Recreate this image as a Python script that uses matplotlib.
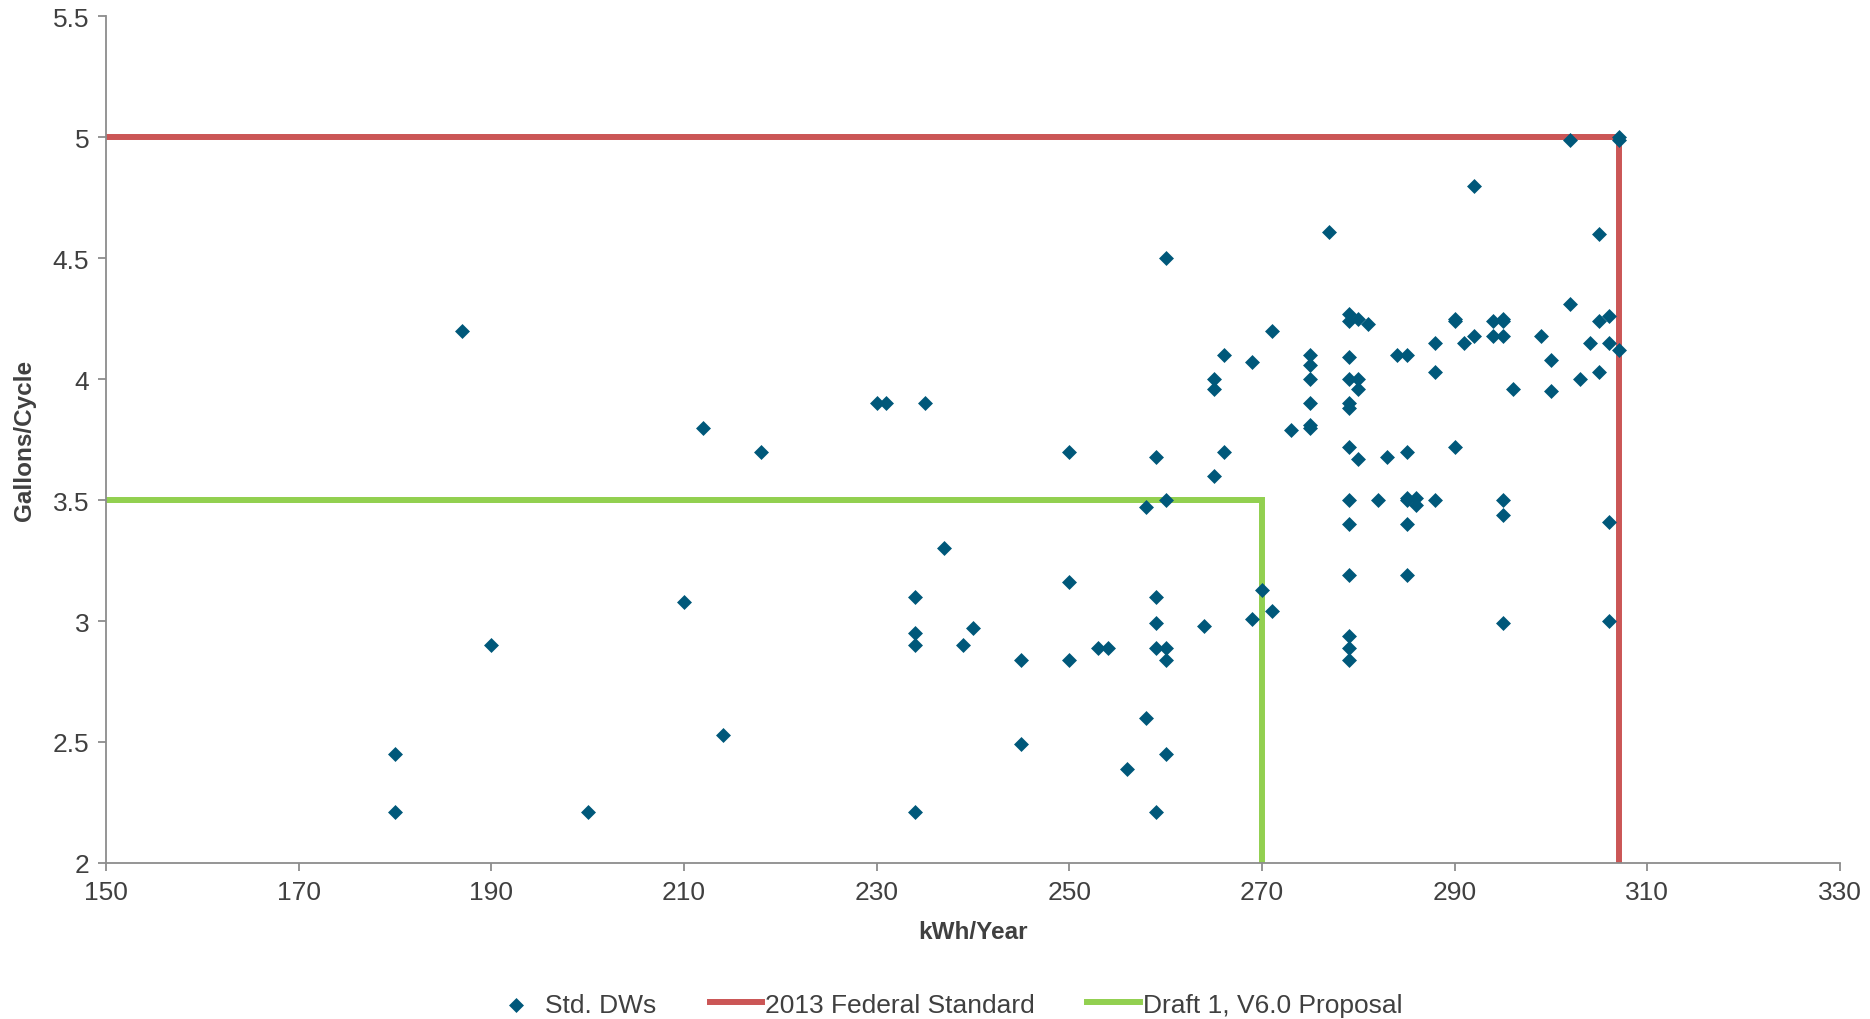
import matplotlib
matplotlib.use("Agg")
import matplotlib.pyplot as plt
from matplotlib.ticker import FuncFormatter

plt.rcParams['font.family'] = ['Liberation Sans', 'DejaVu Sans']

# Std. DWs data (kWh/Year, Gallons/Cycle)
kwh = [180, 180, 187, 190, 200, 210, 212, 214, 218, 230, 231, 234, 234, 234, 234,
       235, 237, 239, 240, 245, 245, 250, 250, 250, 253, 254, 256, 258, 258,
       259, 259, 259, 259, 259, 260, 260, 260, 260, 260, 264, 265, 265, 265,
       266, 266, 269, 269, 270, 271, 271, 273, 275, 275, 275, 275, 275, 275,
       277, 279, 279, 279, 279, 279, 279, 279, 279, 279, 279, 279, 279, 279,
       280, 280, 280, 280, 281, 282, 283, 284, 285, 285, 285, 285, 285, 285,
       286, 286, 288, 288, 288, 290, 290, 290, 291, 292, 292, 294, 294,
       295, 295, 295, 295, 295, 295, 296, 299, 300, 300, 302, 302, 303, 304,
       305, 305, 305, 306, 306, 306, 306, 307, 307, 307]
gallons = [2.45, 2.21, 4.20, 2.90, 2.21, 3.08, 3.80, 2.53, 3.70, 3.90, 3.90, 3.10, 2.95, 2.90, 2.21,
           3.90, 3.30, 2.90, 2.97, 2.84, 2.49, 3.70, 3.16, 2.84, 2.89, 2.89, 2.39, 3.47, 2.60,
           3.68, 3.10, 2.99, 2.89, 2.21, 4.50, 3.50, 2.89, 2.84, 2.45, 2.98, 4.00, 3.96, 3.60,
           4.10, 3.70, 4.07, 3.01, 3.13, 4.20, 3.04, 3.79, 4.10, 4.06, 4.00, 3.90, 3.80, 3.81,
           4.61, 4.27, 4.24, 4.09, 4.00, 3.90, 3.88, 3.72, 3.50, 3.40, 3.19, 2.94, 2.89, 2.84,
           4.25, 4.00, 3.96, 3.67, 4.23, 3.50, 3.68, 4.10, 4.10, 3.70, 3.51, 3.50, 3.40, 3.19,
           3.51, 3.48, 4.15, 4.03, 3.50, 4.25, 4.24, 3.72, 4.15, 4.80, 4.18, 4.24, 4.18,
           4.25, 4.24, 4.18, 3.50, 3.44, 2.99, 3.96, 4.18, 4.08, 3.95, 4.99, 4.31, 4.00, 4.15,
           4.60, 4.24, 4.03, 4.26, 4.15, 3.41, 3.00, 5.00, 4.99, 4.12]

# Reference lines
fed_x = [150, 307, 307]
fed_y = [5.0, 5.0, 2.0]
prop_x = [150, 270, 270]
prop_y = [3.5, 3.5, 2.0]

x_ticks = [150, 170, 190, 210, 230, 250, 270, 290, 310, 330]
y_ticks = [2, 2.5, 3, 3.5, 4, 4.5, 5, 5.5]

fig = plt.figure(figsize=(18.7, 10.2), dpi=100)
ax = fig.add_axes([0.0567, 0.153, 0.9273, 0.830])

text_color = '#404040'
axis_color = '#8C8C8C'

ax.plot(fed_x, fed_y, color='#CB5656', lw=4.3, solid_joinstyle='miter',
        label='2013 Federal Standard', zorder=2)
ax.plot(prop_x, prop_y, color='#92D050', lw=4.3, solid_joinstyle='miter',
        label='Draft 1, V6.0 Proposal', zorder=2)
sc = ax.scatter(kwh, gallons, marker='D', s=58, color='#00587A', linewidths=0,
                label='Std. DWs', zorder=3)

ax.set_xlim(150, 330)
ax.set_ylim(2, 5.5)
ax.set_xticks(x_ticks)
ax.set_yticks(y_ticks)
ax.yaxis.set_major_formatter(FuncFormatter(lambda v, p: f"{v:g}"))

for s in ['top', 'right']:
    ax.spines[s].set_visible(False)
for s in ['left', 'bottom']:
    ax.spines[s].set_color(axis_color)
    ax.spines[s].set_linewidth(1.3)
ax.tick_params(axis='both', direction='out', length=6, width=1.3, color=axis_color,
               labelsize=19, labelcolor=text_color, pad=6)

ax.set_xlabel('kWh/Year', fontsize=17.5, fontweight='bold', color=text_color, labelpad=12)
ax.set_ylabel('Gallons/Cycle', fontsize=17.5, fontweight='bold', color=text_color, labelpad=12)

handles = [sc, ax.lines[0], ax.lines[1]]
labels = ['Std. DWs', '2013 Federal Standard', 'Draft 1, V6.0 Proposal']
leg = fig.legend(handles, labels, loc='lower center', bbox_to_anchor=(0.506, -0.021),
                 ncol=3, frameon=False, fontsize=19, handlelength=2.0,
                 handletextpad=0.1, columnspacing=2.0, labelcolor=text_color)

fig.savefig('out.png', dpi=100)
